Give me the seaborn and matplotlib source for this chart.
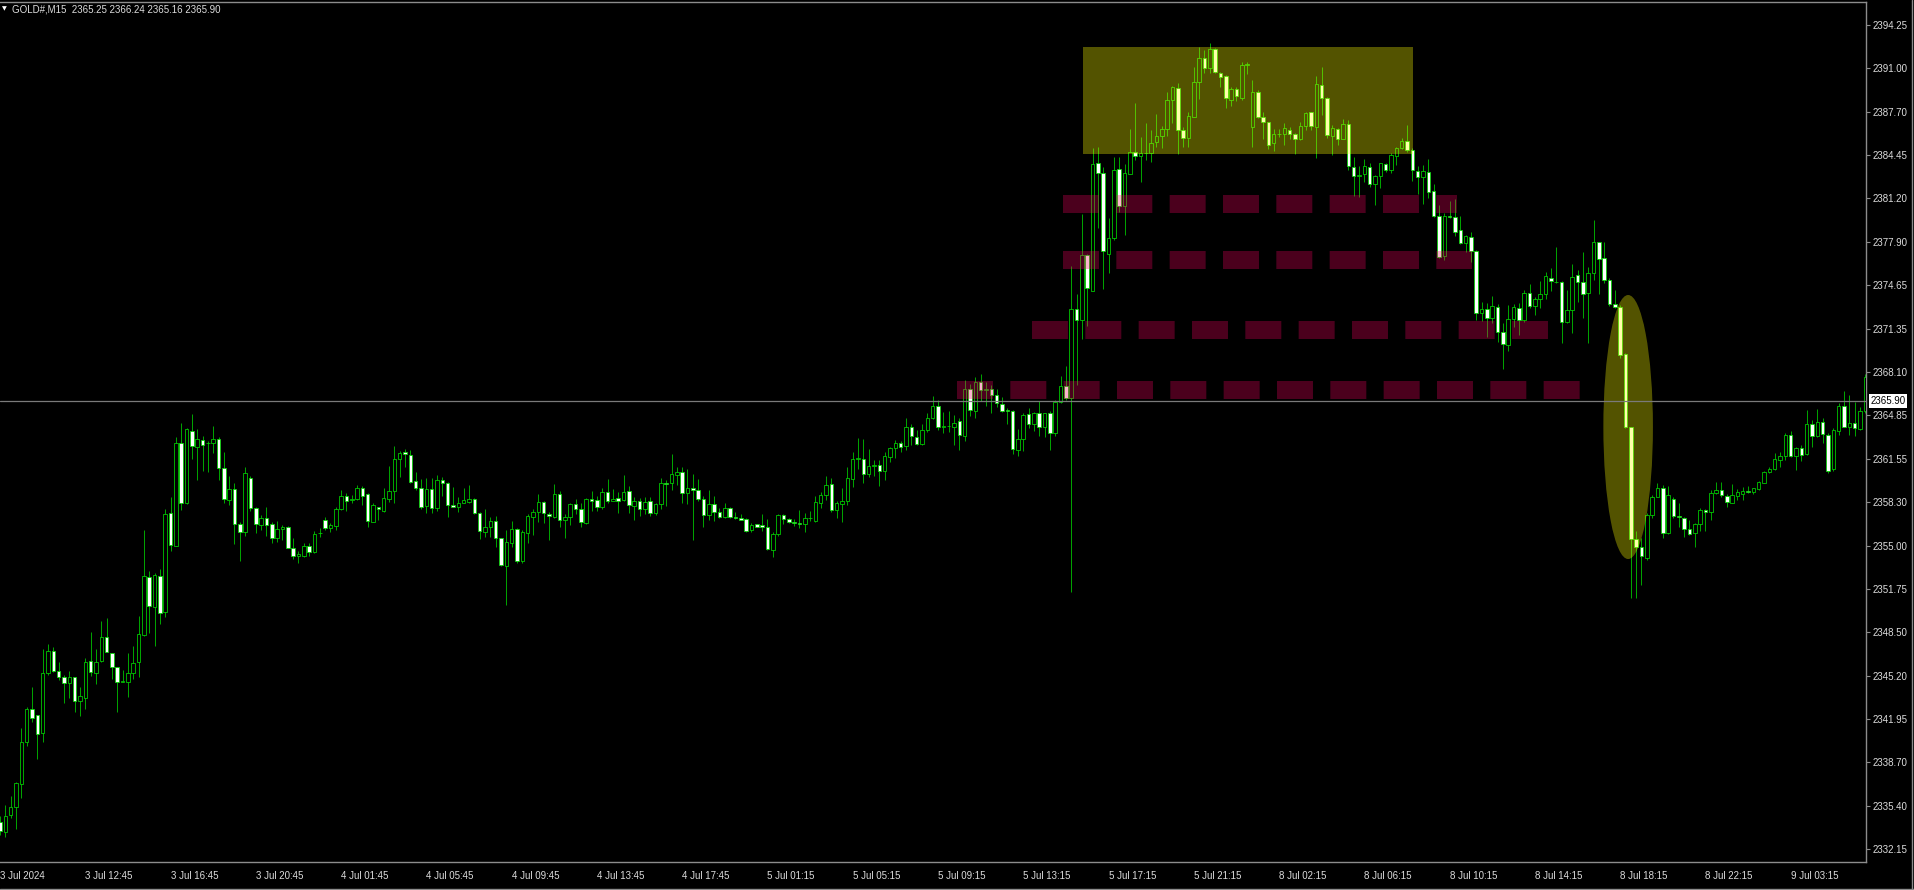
import numpy as np
import pandas as pd
import matplotlib
matplotlib.use("Agg")
import matplotlib.pyplot as plt
import matplotlib.transforms as mtransforms
from matplotlib.patches import Rectangle, Ellipse
from matplotlib.lines import Line2D
import seaborn as sns

# ---------------- data (GOLD#, M15) ----------------
opens = [
 2334.20, 2333.46, 2334.72, 2335.29, 2337.03, 2340.19, 2342.68, 2342.25, 2340.87, 2345.39,
 2347.08, 2345.59, 2345.09, 2344.69, 2345.14, 2343.31, 2343.51, 2346.32, 2345.44, 2346.32,
 2348.10, 2346.90, 2345.89, 2344.71, 2344.76, 2345.39, 2346.27, 2348.28, 2352.68, 2350.37,
 2352.73, 2350.04, 2357.45, 2355.01, 2362.72, 2358.20, 2363.65, 2362.47, 2362.98, 2362.72,
 2362.72, 2363.05, 2360.89, 2358.45, 2359.28, 2356.62, 2356.07, 2360.14, 2357.83, 2356.57,
 2357.07, 2356.62, 2355.57, 2356.25, 2356.39, 2354.86, 2354.26, 2354.26, 2354.99, 2354.56,
 2355.94, 2356.95, 2356.37, 2356.52, 2357.75, 2358.78, 2358.48, 2358.50, 2359.38, 2358.88,
 2356.82, 2357.95, 2357.65, 2358.53, 2359.15, 2361.52, 2362.04, 2361.84, 2359.88, 2359.33,
 2358.02, 2359.25, 2357.87, 2359.96, 2359.71, 2358.07, 2357.95, 2358.25, 2358.33, 2358.53,
 2357.45, 2356.06, 2356.44, 2356.87, 2355.56, 2353.50, 2355.18, 2356.27, 2353.88, 2355.94,
 2357.19, 2357.57, 2358.33, 2357.37, 2357.19, 2358.88, 2356.94, 2357.14, 2358.12, 2357.75,
 2356.74, 2358.50, 2358.45, 2357.95, 2359.08, 2358.40, 2358.58, 2358.45, 2359.13, 2358.02,
 2358.38, 2357.75, 2358.38, 2357.45, 2358.12, 2359.71, 2359.71, 2360.33, 2360.59, 2358.95,
 2359.33, 2359.20, 2358.53, 2357.32, 2358.12, 2357.57, 2357.14, 2357.82, 2357.19, 2357.12,
 2356.99, 2356.19, 2356.62, 2356.57, 2356.44, 2354.71, 2355.86, 2357.31, 2357.03, 2356.81,
 2356.70, 2356.61, 2357.09, 2356.89, 2358.23, 2358.79, 2359.62, 2357.67, 2358.18, 2358.34,
 2360.02, 2361.55, 2361.55, 2360.43, 2361.02, 2361.07, 2360.66, 2361.72, 2362.39, 2362.75,
 2362.53, 2363.92, 2363.22, 2362.67, 2363.73, 2364.62, 2365.54, 2363.92, 2364.06, 2363.95,
 2364.37, 2363.31, 2366.80, 2365.18, 2367.35, 2366.74, 2366.85, 2366.38, 2365.68, 2365.21,
 2365.18, 2362.25, 2363.03, 2364.90, 2364.20, 2364.98, 2363.92, 2365.04, 2363.50, 2365.82,
 2367.02, 2366.10, 2372.88, 2372.02, 2376.93, 2374.19, 2383.82, 2383.12, 2376.98, 2378.16,
 2383.40, 2380.61, 2383.04, 2384.66, 2384.38, 2384.63, 2384.58, 2385.40, 2385.88, 2386.38,
 2388.60, 2389.47, 2386.33, 2385.76, 2387.34, 2389.98, 2391.73, 2391.03, 2392.41, 2390.60,
 2390.40, 2388.59, 2389.40, 2388.77, 2391.23, 2386.59, 2389.22, 2387.29, 2386.96, 2385.33,
 2386.01, 2386.03, 2386.33, 2386.03, 2385.63, 2386.64, 2387.67, 2386.54, 2389.73, 2388.72,
 2385.88, 2386.41, 2385.66, 2386.79, 2383.57, 2382.89, 2382.99, 2383.57, 2382.26, 2382.89,
 2383.75, 2383.32, 2384.40, 2384.95, 2385.51, 2384.83, 2383.27, 2382.82, 2383.19, 2381.74,
 2379.85, 2376.86, 2379.85, 2379.80, 2378.80, 2377.79, 2378.30, 2377.22, 2372.57, 2372.82,
 2372.14, 2372.97, 2371.14, 2370.13, 2372.07, 2372.94, 2372.02, 2374.08, 2373.10, 2373.57,
 2373.95, 2375.16, 2374.90, 2374.90, 2371.84, 2372.77, 2375.41, 2374.90, 2374.03, 2375.53,
 2377.87, 2376.66, 2375.03, 2373.22, 2373.02, 2369.43, 2363.93, 2355.51, 2354.93, 2354.11,
 2357.32, 2358.70, 2359.38, 2355.99, 2358.50, 2357.24, 2357.07, 2356.24, 2355.94, 2356.61,
 2357.70, 2357.57, 2358.95, 2359.21, 2358.78, 2358.25, 2358.78, 2358.88, 2359.13, 2359.08,
 2359.28, 2359.76, 2360.59, 2360.79, 2361.47, 2361.77, 2363.35, 2361.77, 2362.34, 2361.92,
 2364.15, 2363.30, 2364.35, 2363.35, 2360.76, 2363.68, 2365.56, 2363.98, 2364.23, 2363.80,
 2365.16,
]
highs = [
 2334.60, 2335.47, 2336.15, 2337.23, 2341.25, 2342.88, 2344.39, 2342.25, 2347.23, 2347.60,
 2347.40, 2346.27, 2345.27, 2345.59, 2345.14, 2344.39, 2346.57, 2348.48, 2347.20, 2349.34,
 2349.54, 2346.90, 2345.89, 2345.64, 2346.95, 2347.48, 2349.71, 2356.19, 2353.10, 2352.98,
 2353.23, 2357.78, 2358.70, 2363.23, 2364.28, 2363.91, 2364.93, 2363.78, 2363.28, 2362.90,
 2364.03, 2363.18, 2362.10, 2360.26, 2359.71, 2356.82, 2360.92, 2360.26, 2357.90, 2357.32,
 2357.90, 2356.82, 2356.90, 2356.57, 2356.49, 2355.57, 2354.64, 2355.24, 2355.19, 2356.12,
 2356.37, 2357.15, 2356.70, 2357.95, 2359.21, 2358.96, 2358.83, 2359.58, 2359.51, 2358.96,
 2358.20, 2357.95, 2359.33, 2361.01, 2362.55, 2362.17, 2362.27, 2362.22, 2360.59, 2360.03,
 2360.13, 2360.13, 2360.33, 2360.16, 2359.83, 2359.41, 2358.70, 2359.33, 2359.58, 2358.58,
 2357.57, 2357.75, 2357.19, 2357.24, 2355.56, 2356.19, 2356.89, 2356.32, 2356.19, 2357.40,
 2357.75, 2358.90, 2358.38, 2357.57, 2359.66, 2359.13, 2357.40, 2358.20, 2358.53, 2358.20,
 2358.58, 2359.15, 2358.75, 2359.33, 2360.01, 2359.25, 2359.08, 2360.33, 2359.51, 2358.65,
 2358.58, 2358.65, 2358.65, 2358.25, 2360.08, 2359.96, 2361.89, 2360.91, 2360.91, 2360.76,
 2360.41, 2360.03, 2358.75, 2359.20, 2358.78, 2357.82, 2358.25, 2357.95, 2357.52, 2357.40,
 2357.07, 2356.69, 2356.62, 2357.40, 2356.99, 2356.05, 2357.36, 2357.36, 2357.08, 2357.03,
 2357.67, 2357.50, 2357.59, 2358.76, 2359.04, 2360.24, 2360.10, 2358.34, 2359.35, 2360.94,
 2362.05, 2363.11, 2363.03, 2362.33, 2361.50, 2361.50, 2362.05, 2362.47, 2362.97, 2362.89,
 2364.65, 2364.15, 2363.73, 2364.15, 2364.98, 2366.29, 2365.96, 2365.07, 2365.12, 2364.84,
 2364.65, 2367.49, 2367.21, 2367.69, 2367.91, 2367.35, 2367.13, 2366.85, 2366.24, 2365.35,
 2365.26, 2363.81, 2364.98, 2365.40, 2365.07, 2365.88, 2365.04, 2365.12, 2366.01, 2367.77,
 2368.53, 2376.06, 2374.00, 2380.00, 2376.98, 2384.99, 2385.08, 2383.54, 2379.69, 2384.30,
 2384.32, 2383.77, 2386.39, 2388.34, 2385.78, 2386.89, 2386.33, 2387.54, 2386.64, 2389.22,
 2389.65, 2389.85, 2386.59, 2387.72, 2391.11, 2392.56, 2392.36, 2392.87, 2392.49, 2390.73,
 2390.48, 2389.60, 2389.60, 2391.48, 2391.48, 2390.10, 2389.35, 2387.72, 2386.96, 2386.41,
 2386.41, 2386.84, 2386.59, 2386.08, 2386.96, 2387.72, 2387.72, 2390.40, 2391.11, 2388.85,
 2386.71, 2386.46, 2387.14, 2387.09, 2384.32, 2383.62, 2384.15, 2383.82, 2382.94, 2383.87,
 2383.82, 2384.58, 2385.03, 2385.71, 2386.71, 2384.95, 2383.62, 2383.70, 2384.15, 2382.26,
 2380.68, 2380.05, 2381.01, 2381.11, 2379.88, 2378.42, 2378.67, 2377.29, 2373.35, 2373.27,
 2373.82, 2373.22, 2371.76, 2373.15, 2373.20, 2373.32, 2374.28, 2374.73, 2373.72, 2374.98,
 2375.61, 2375.91, 2377.49, 2374.98, 2374.28, 2376.24, 2375.78, 2377.12, 2376.03, 2379.55,
 2377.92, 2377.87, 2375.16, 2374.28, 2373.15, 2369.55, 2363.98, 2356.14, 2355.56, 2357.45,
 2358.83, 2359.71, 2359.58, 2359.51, 2358.65, 2358.20, 2357.19, 2356.94, 2356.74, 2357.87,
 2357.75, 2359.21, 2359.83, 2359.83, 2358.88, 2359.66, 2359.26, 2359.46, 2359.53, 2359.38,
 2359.88, 2360.64, 2360.96, 2361.97, 2362.09, 2363.52, 2363.68, 2362.42, 2362.60, 2365.23,
 2364.48, 2365.28, 2364.61, 2363.47, 2363.85, 2365.73, 2366.66, 2366.36, 2365.86, 2365.48,
 2367.92,
]
lows = [
 2333.20, 2333.03, 2334.46, 2333.66, 2336.02, 2339.94, 2341.75, 2338.91, 2340.19, 2345.24,
 2345.47, 2344.89, 2343.13, 2343.56, 2342.50, 2342.18, 2342.70, 2345.22, 2344.56, 2346.27,
 2346.97, 2344.94, 2342.50, 2344.71, 2343.63, 2344.94, 2345.14, 2348.23, 2348.45, 2347.48,
 2349.08, 2349.66, 2354.64, 2355.01, 2357.70, 2358.15, 2361.52, 2359.96, 2360.64, 2360.59,
 2361.97, 2359.96, 2358.20, 2358.08, 2355.11, 2353.86, 2355.77, 2357.63, 2355.94, 2356.19,
 2355.74, 2355.19, 2355.26, 2355.44, 2354.81, 2353.98, 2353.68, 2354.18, 2354.26, 2354.49,
 2355.69, 2356.19, 2356.02, 2356.19, 2357.70, 2357.63, 2358.25, 2358.45, 2358.08, 2356.44,
 2356.77, 2356.94, 2357.57, 2358.32, 2358.25, 2360.21, 2360.96, 2359.76, 2359.20, 2357.75,
 2357.45, 2357.45, 2357.65, 2358.75, 2357.14, 2357.95, 2357.57, 2358.20, 2358.20, 2357.40,
 2355.49, 2355.69, 2355.69, 2354.93, 2353.50, 2350.54, 2354.88, 2353.68, 2353.73, 2355.18,
 2355.81, 2356.82, 2356.74, 2355.44, 2357.07, 2356.39, 2355.61, 2356.57, 2357.40, 2356.39,
 2356.64, 2357.62, 2357.65, 2357.77, 2358.20, 2358.40, 2357.50, 2358.38, 2357.45, 2356.94,
 2357.24, 2357.40, 2357.24, 2357.32, 2357.77, 2358.02, 2359.20, 2359.58, 2358.20, 2358.15,
 2355.44, 2358.38, 2356.44, 2356.94, 2356.87, 2357.07, 2357.07, 2357.12, 2357.02, 2356.94,
 2356.06, 2356.06, 2356.44, 2356.14, 2354.68, 2354.15, 2355.77, 2356.61, 2356.75, 2356.47,
 2356.33, 2356.05, 2356.89, 2356.81, 2357.87, 2358.43, 2357.53, 2357.09, 2356.81, 2358.06,
 2359.40, 2360.80, 2359.76, 2360.18, 2360.29, 2359.49, 2359.96, 2361.30, 2361.58, 2362.05,
 2362.25, 2362.56, 2362.61, 2362.61, 2363.59, 2364.57, 2363.73, 2363.50, 2363.59, 2362.61,
 2362.19, 2362.89, 2364.79, 2364.62, 2365.88, 2365.54, 2365.04, 2365.46, 2365.07, 2364.15,
 2361.91, 2361.77, 2362.14, 2363.87, 2363.67, 2363.25, 2363.17, 2362.19, 2363.31, 2365.74,
 2366.02, 2351.53, 2367.13, 2370.62, 2371.54, 2374.19, 2378.94, 2374.33, 2375.53, 2378.02,
 2380.19, 2378.44, 2382.99, 2384.05, 2382.44, 2384.07, 2383.95, 2385.08, 2384.95, 2385.88,
 2386.84, 2384.53, 2385.08, 2385.03, 2387.29, 2388.67, 2390.60, 2390.60, 2390.60, 2389.60,
 2388.02, 2388.14, 2388.52, 2388.59, 2390.53, 2385.03, 2387.21, 2385.63, 2384.88, 2384.78,
 2385.78, 2385.20, 2385.63, 2384.50, 2385.58, 2386.33, 2386.33, 2384.20, 2387.46, 2385.71,
 2384.45, 2385.20, 2385.63, 2383.32, 2381.39, 2381.31, 2382.44, 2382.06, 2380.68, 2381.99,
 2383.19, 2383.12, 2383.70, 2384.90, 2384.70, 2382.52, 2381.51, 2380.73, 2381.19, 2379.75,
 2376.66, 2376.54, 2379.68, 2378.35, 2377.74, 2377.17, 2376.41, 2372.02, 2371.96, 2370.71,
 2371.76, 2370.38, 2368.32, 2369.71, 2371.51, 2370.89, 2371.89, 2372.94, 2372.39, 2372.94,
 2373.57, 2374.23, 2374.83, 2370.30, 2371.76, 2371.06, 2373.40, 2372.14, 2370.26, 2375.03,
 2373.97, 2374.83, 2373.10, 2372.89, 2369.18, 2363.85, 2351.04, 2351.04, 2352.04, 2353.93,
 2357.07, 2358.65, 2355.56, 2355.89, 2357.07, 2356.39, 2355.69, 2355.81, 2354.88, 2356.14,
 2356.14, 2356.94, 2358.90, 2358.70, 2357.95, 2358.20, 2358.45, 2358.45, 2359.01, 2358.88,
 2359.21, 2359.71, 2360.51, 2360.71, 2360.91, 2361.47, 2361.72, 2360.71, 2361.41, 2361.84,
 2362.47, 2363.22, 2362.72, 2360.46, 2360.66, 2363.35, 2363.93, 2363.35, 2363.30, 2363.73,
 2364.98,
]
closes = [
 2333.50, 2334.64, 2335.34, 2337.10, 2340.24, 2342.70, 2342.05, 2340.82, 2345.39, 2347.08,
 2345.57, 2345.09, 2344.64, 2345.14, 2343.31, 2343.68, 2346.27, 2345.47, 2346.27, 2348.10,
 2346.97, 2345.89, 2344.71, 2344.81, 2345.44, 2346.20, 2348.33, 2352.73, 2350.47, 2352.80,
 2349.91, 2357.40, 2355.06, 2362.72, 2358.20, 2363.78, 2362.52, 2363.03, 2362.60, 2362.77,
 2363.03, 2360.84, 2358.53, 2359.26, 2356.62, 2356.07, 2360.51, 2357.83, 2356.62, 2357.07,
 2356.57, 2355.57, 2356.27, 2356.44, 2354.86, 2354.26, 2354.36, 2354.99, 2354.56, 2355.87,
 2355.99, 2356.37, 2356.54, 2357.75, 2358.78, 2358.40, 2358.53, 2359.33, 2358.78, 2356.90,
 2358.08, 2357.77, 2358.58, 2359.13, 2361.52, 2362.02, 2361.94, 2359.78, 2359.33, 2357.95,
 2359.28, 2357.87, 2359.96, 2359.76, 2358.07, 2357.95, 2358.20, 2358.45, 2358.55, 2357.45,
 2356.14, 2356.44, 2356.87, 2355.56, 2353.55, 2355.26, 2356.27, 2353.88, 2356.01, 2357.24,
 2357.52, 2358.33, 2357.45, 2357.24, 2358.88, 2356.94, 2357.14, 2358.12, 2357.77, 2356.77,
 2358.50, 2358.40, 2357.95, 2359.08, 2358.40, 2358.53, 2358.40, 2359.08, 2358.07, 2358.38,
 2357.75, 2358.33, 2357.50, 2358.12, 2359.71, 2359.66, 2360.38, 2360.54, 2358.95, 2359.33,
 2359.20, 2358.53, 2357.32, 2358.12, 2357.57, 2357.14, 2357.82, 2357.19, 2357.07, 2356.94,
 2356.14, 2356.57, 2356.44, 2356.39, 2354.76, 2355.86, 2357.31, 2357.03, 2356.81, 2356.73,
 2356.64, 2357.09, 2357.06, 2358.29, 2358.84, 2359.60, 2357.67, 2358.20, 2358.37, 2360.10,
 2361.55, 2361.58, 2360.43, 2361.02, 2361.07, 2360.66, 2361.77, 2362.39, 2362.75, 2362.47,
 2363.92, 2363.25, 2362.69, 2363.73, 2364.65, 2365.54, 2363.92, 2364.06, 2364.00, 2364.28,
 2363.36, 2366.85, 2365.21, 2367.35, 2366.74, 2366.85, 2366.38, 2365.74, 2365.18, 2365.12,
 2362.33, 2363.03, 2364.84, 2364.20, 2364.98, 2363.95, 2365.04, 2363.50, 2365.82, 2367.02,
 2366.10, 2372.88, 2372.04, 2376.93, 2374.39, 2383.77, 2383.12, 2377.18, 2378.16, 2383.35,
 2380.61, 2383.07, 2384.66, 2384.38, 2384.63, 2384.58, 2385.38, 2385.88, 2386.38, 2388.60,
 2389.55, 2386.33, 2385.76, 2387.39, 2389.98, 2391.78, 2391.03, 2392.41, 2390.73, 2390.35,
 2388.72, 2389.40, 2388.92, 2391.23, 2391.28, 2389.22, 2387.29, 2386.91, 2385.20, 2386.01,
 2386.03, 2386.46, 2386.01, 2385.63, 2386.66, 2387.59, 2386.64, 2389.78, 2388.72, 2385.96,
 2386.46, 2385.66, 2386.79, 2383.65, 2382.89, 2382.94, 2383.65, 2382.26, 2382.89, 2383.82,
 2383.32, 2384.45, 2384.95, 2385.51, 2384.83, 2383.32, 2382.82, 2383.27, 2381.69, 2379.85,
 2376.79, 2379.85, 2379.80, 2378.67, 2377.79, 2378.35, 2377.22, 2372.52, 2372.85, 2372.19,
 2373.10, 2371.14, 2370.21, 2372.07, 2372.97, 2372.02, 2374.08, 2373.07, 2373.57, 2373.95,
 2375.36, 2374.95, 2374.85, 2371.84, 2372.77, 2375.28, 2374.90, 2373.97, 2375.53, 2377.92,
 2376.61, 2375.03, 2373.22, 2373.02, 2369.38, 2363.93, 2355.51, 2354.93, 2354.23, 2357.32,
 2358.70, 2359.33, 2355.99, 2358.83, 2357.24, 2357.14, 2356.24, 2355.89, 2356.64, 2357.70,
 2357.57, 2358.95, 2359.21, 2358.83, 2358.32, 2358.83, 2359.08, 2359.13, 2359.08, 2359.33,
 2359.78, 2360.59, 2360.79, 2361.52, 2361.77, 2363.35, 2361.77, 2362.34, 2361.84, 2364.15,
 2363.27, 2364.35, 2363.40, 2360.66, 2363.73, 2365.56, 2363.98, 2364.23, 2363.85, 2365.16,
 2367.75,
]

time_labels = ["3 Jul 2024", "3 Jul 12:45", "3 Jul 16:45", "3 Jul 20:45", "4 Jul 01:45",
               "4 Jul 05:45", "4 Jul 09:45", "4 Jul 13:45", "4 Jul 17:45", "5 Jul 01:15",
               "5 Jul 05:15", "5 Jul 09:15", "5 Jul 13:15", "5 Jul 17:15", "5 Jul 21:15",
               "8 Jul 02:15", "8 Jul 06:15", "8 Jul 10:15", "8 Jul 14:15", "8 Jul 18:15",
               "8 Jul 22:15", "9 Jul 03:15"]
label_step = 16   # one time label every 16 bars (4 h of M15 bars)

price_ticks = [2332.15, 2335.40, 2338.70, 2341.95, 2345.20, 2348.50, 2351.75, 2355.00,
               2358.30, 2361.55, 2364.85, 2368.10, 2371.35, 2374.65, 2377.90, 2381.20,
               2384.45, 2387.70, 2391.00, 2394.25]

bid_price = 2365.90
title_text = "GOLD#,M15  2365.25 2366.24 2365.16 2365.90"

# drawn objects (bar positions / prices)
zone_bars = [203.3, 265.1]
zone_prices = [2384.52, 2392.62]
level_prices = [2380.76, 2376.54, 2371.26, 2366.77]
level_start = [199.4, 199.4, 193.6, 179.6]
level_end = [273.4, 276.2, 290.4, 296.6]
ellipse_bar, ellipse_price = 305.5, 2363.95
ellipse_bars_wide, ellipse_price_tall = 9.3, 19.9

view_bars = [0.244, 350.13]
view_prices = [2331.17, 2395.98]

# ---------------- style ----------------
sns.set_theme(style="dark", rc={
    "axes.facecolor": "black", "figure.facecolor": "black",
    "savefig.facecolor": "black", "axes.grid": False,
})
plt.rcParams["font.family"] = ["Liberation Sans", "DejaVu Sans"]
plt.rcParams["lines.scale_dashes"] = False

EDGE = "#00d800"
WICK = "#00a800"
TXT = "#dcdcdc"
FRAME = "#8c8c8c"

df = pd.DataFrame({"bar": np.arange(len(opens)), "open": opens, "high": highs,
                   "low": lows, "close": closes})
up = df[df.close >= df.open]
dn = df[df.close < df.open]

W, H = 1914, 890
fig = plt.figure(figsize=(W / 100, H / 100), dpi=100)
ax = fig.add_axes([0, 28 / H, 1866 / W, 860 / H])
ax.set_facecolor("black")

# wicks
ax.vlines(df.bar, df.low, df.high, color=WICK, lw=0.7, zorder=2)
# bodies
ax.bar(up.bar, up.close - up.open, bottom=up.open, width=0.66, facecolor="black",
       edgecolor=EDGE, linewidth=0.55, zorder=3)
ax.bar(dn.bar, dn.open - dn.close, bottom=dn.close, width=0.66, facecolor="white",
       edgecolor=EDGE, linewidth=0.55, zorder=3)

# dashed resistance levels
for p, s, e in zip(level_prices, level_start, level_end):
    ax.plot([s, e], [p, p], color=(0.98, 0.0, 0.39), alpha=0.30, lw=12.96,
            dashes=(25.9, 12.5), dash_capstyle="butt", solid_capstyle="butt", zorder=4)

# highlighted zone and ellipse
ax.add_patch(Rectangle((zone_bars[0], zone_prices[0]), zone_bars[1] - zone_bars[0],
                       zone_prices[1] - zone_prices[0], facecolor=(1, 1, 0, 0.33),
                       edgecolor="none", zorder=5))
ax.add_patch(Ellipse((ellipse_bar, ellipse_price), ellipse_bars_wide, ellipse_price_tall,
                     facecolor=(1, 1, 0, 0.33), edgecolor="none", zorder=5))

# bid line
ax.axhline(bid_price, color="#7a7a7a", lw=0.9, zorder=6)

ax.set_xlim(*view_bars)
ax.set_ylim(*view_prices)

# axes
ax.yaxis.tick_right()
ax.set_yticks(price_ticks)
ax.set_yticklabels([f"{v:.2f}" for v in price_ticks])
xt = np.arange(len(time_labels)) * label_step
ax.set_xticks(xt)
ax.set_xticklabels(time_labels)
for lab in ax.get_xticklabels():
    lab.set_horizontalalignment("left")
ax.tick_params(axis="y", which="both", direction="out", length=3, width=0.8,
               color=FRAME, labelcolor=TXT, labelsize=7, pad=2, right=True, left=False)
ax.tick_params(axis="x", which="both", direction="out", length=3.5, width=0.8,
               color=FRAME, labelcolor=TXT, labelsize=7, pad=3)
for side in ["right", "bottom", "top"]:
    ax.spines[side].set_visible(True)
    ax.spines[side].set_color(FRAME)
    ax.spines[side].set_linewidth(1.0)
ax.spines["left"].set_visible(False)

# bid label box on the price scale
trans = mtransforms.offset_copy(mtransforms.blended_transform_factory(ax.transAxes, ax.transData),
                                fig=fig, x=3.2, y=0, units="points")
ax.text(1.0, bid_price, f"{bid_price:.2f}", transform=trans, ha="left", va="center",
        fontsize=7, color="black", zorder=10, clip_on=False,
        bbox=dict(boxstyle="square,pad=0.18", facecolor="white", edgecolor="none"))

# title in the top-left corner
fig.text(2 / W, 1 - 9 / H, "\u25BC", fontsize=4.5, color="white", ha="left", va="center",
         family=["DejaVu Sans"])
fig.text(12 / W, 1 - 9 / H, title_text, fontsize=7, color=TXT, ha="left", va="center")

# outer window frame
fig.add_artist(Line2D([0, 1], [1.5 / H, 1.5 / H], transform=fig.transFigure, color=FRAME, lw=1))
fig.add_artist(Line2D([1 - 2.5 / W, 1 - 2.5 / W], [0, 1], transform=fig.transFigure, color=FRAME, lw=1))

fig.savefig("out.png", dpi=100, facecolor="black")
